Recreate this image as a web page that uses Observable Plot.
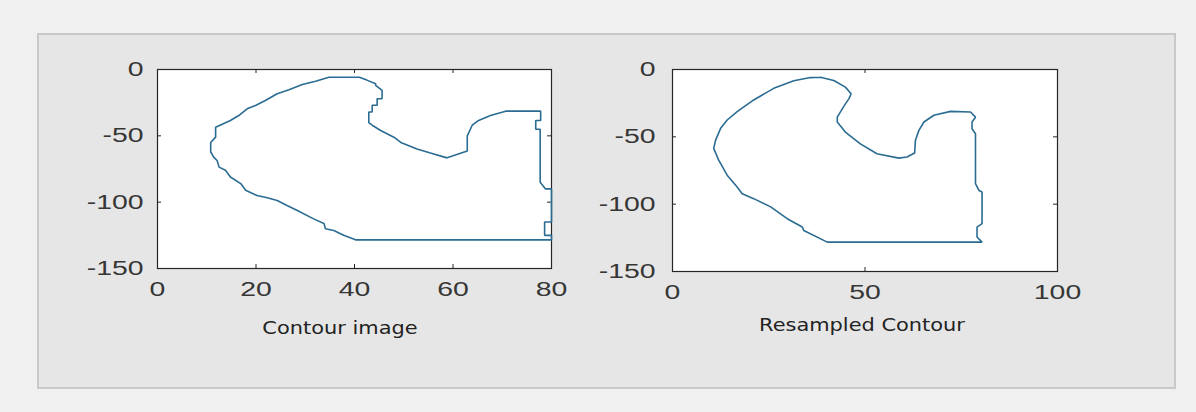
<!DOCTYPE html>
<html><head><meta charset="utf-8">
<script src="https://cdn.jsdelivr.net/npm/d3@7"></script>
<script src="https://cdn.jsdelivr.net/npm/@observablehq/plot@0.6"></script>
<style>
html,body{margin:0;padding:0;background:#f0f0f0;}
#page{position:relative;width:1196px;height:412px;overflow:hidden;background:#f0f0f0;}
#panel{position:absolute;left:37px;top:33px;width:1139px;height:356px;box-sizing:border-box;background:#e6e6e6;border:2px solid #c9c9c9;}
.plotbox{position:absolute;}
.title{position:absolute;width:400px;text-align:center;font-family:"DejaVu Sans";font-size:17px;line-height:17px;color:#222;transform:scaleX(1.23);transform-origin:center;white-space:nowrap;}
</style></head><body>
<div id="page">
<div id="panel"></div>
<div id="left" class="plotbox" style="left:80px;top:49px"></div>
<div id="right" class="plotbox" style="left:595px;top:49px"></div>
<div class="title" id="t1" style="left:140px;top:320px"></div>
<div class="title" id="t2" style="left:662px;top:317px"></div>
</div>
<script>
// ---- data ----
const titles = ["Contour image", "Resampled Contour"];
const leftXTicks = [0, 20, 40, 60, 80];
const rightXTicks = [0, 50, 100];
const yTicks = [0, -50, -100, -150];

const contourImageX = [34.8,41,42.5,44.3,44.3,45.6,45.6,44.6,44.6,43.6,43.6,42.9,42.9,43.6,45.3,48,49.4,52.7,55.4,58.8,62.9,62.9,63.9,65.2,67.6,70.7,77.8,77.8,76.8,76.8,77.7,77.7,78.8,80,80,78.6,78.6,80,80,40.2,37.8,35.8,34.1,33.8,31.7,28.4,26.3,24.3,22.3,20.2,17.9,16.9,14.8,13.8,12.5,12.1,11.4,10.8,10.8,11.8,11.8,14.8,16.5,18.2,19.9,21.9,24.3,26.7,29.4,32.1,34.8];
const contourImageY = [-5.8,-5.8,-8,-10.8,-12,-15.8,-22,-22,-27,-27,-32,-32,-40,-42,-46,-51,-55,-60,-63,-66.6,-61.5,-50,-42,-38.4,-34.7,-31.4,-31.4,-38.4,-38.4,-45,-45,-85,-90,-90,-115,-115,-125,-125,-128.4,-128.4,-125,-121.3,-120,-116,-112.6,-106.3,-102.5,-98.7,-96.7,-95,-91,-86,-81,-76,-73.6,-68.6,-66,-62,-55,-51,-43.5,-38.4,-34.7,-29.6,-27.1,-23.4,-18.3,-15.3,-11.3,-8.8,-5.8];

const resampledX = [38.4,41.9,44.9,46.4,45.8,44.9,44.1,42.8,42.8,44.9,48.8,53.1,58.8,60.9,62.9,63.1,64,65.3,67.9,72.2,77.4,78.7,77.8,77.8,78.7,78.7,79.6,80.4,80.4,79.1,79.1,80.4,40.2,34.1,33.7,29.8,25.5,21.1,18.1,16.8,14.2,12,10.7,11.2,12.5,14.2,16.8,21.1,26.3,31.5,35.8,38.4];
const resampledY = [-5.7,-8.2,-13.1,-18,-21.8,-25.5,-29.2,-35.4,-39,-46.5,-55.2,-62.6,-65.8,-65,-62,-52.6,-45.2,-39,-34,-31.1,-31.6,-35.4,-39,-44,-47.7,-84.8,-89.8,-91,-114.5,-117,-124.4,-128.2,-128.2,-119.5,-117,-110.8,-102,-95.9,-92.2,-87.2,-78.5,-67.3,-58.6,-52.4,-43.7,-37.5,-31.3,-22.6,-14,-8.3,-6,-5.7];

// ---- drawing ----
const lineColor = "#2b6c92";
const axisColor = "#262626";

function stretch(svg, s) {
  svg.querySelectorAll('g[aria-label$="tick label"] text').forEach(t => {
    const tr = t.getAttribute("transform") || "";
    let tx = 0, ty = 0;
    const m = tr.match(/translate\(\s*([-\d.e]+)[ ,]+([-\d.e]+)\s*\)/);
    if (m) { tx = +m[1]; ty = +m[2]; }
    const ax = tx + (parseFloat(t.getAttribute("x")) || 0);
    const ay = ty + (parseFloat(t.getAttribute("y")) || 0);
    t.setAttribute("transform", `translate(${ax},${ay}) scale(${s},1) translate(${-ax},${-ay}) ${tr}`);
  });
}

function panel({xs, ys, xDomain, xTicks, plotW, plotH, padY}) {
  const data = xs.map((x, i) => ({x, y: ys[i]}));
  const mL = 77, mT = 20, mR = 25, mB = 36, tk = 4;
  const svg = Plot.plot({
    width: mL + plotW + mR, height: mT + plotH + mB,
    marginLeft: mL, marginTop: mT, marginRight: mR, marginBottom: mB,
    style: {background: "transparent", overflow: "visible", fontFamily: "'Liberation Sans', Arial, sans-serif", fontSize: "20px", color: "#363636"},
    x: {domain: xDomain, label: null},
    y: {domain: [-150, 0], label: null},
    marks: [
      Plot.frame({fill: "white", stroke: null}),
      Plot.tickX(xTicks, {x: d => d, insetTop: plotH - tk, stroke: axisColor}),
      Plot.tickX(xTicks, {x: d => d, insetBottom: plotH - tk, stroke: axisColor}),
      Plot.tickY(yTicks, {y: d => d, insetLeft: plotW - tk, stroke: axisColor}),
      Plot.tickY(yTicks, {y: d => d, insetRight: plotW - tk, stroke: axisColor}),
      Plot.frame({stroke: axisColor, strokeWidth: 1.2}),
      Plot.line(data, {x: "x", y: "y", stroke: lineColor, strokeWidth: 1.6, strokeLinejoin: "miter", clip: false}),
      Plot.axisX({ticks: xTicks, tickSize: 0, tickPadding: 13, tickFormat: d => String(d), label: null}),
      Plot.axisY({ticks: yTicks, tickSize: 0, tickPadding: padY, tickFormat: d => String(d), label: null})
    ]
  });
  stretch(svg, 1.42);
  return svg;
}

document.getElementById("left").append(panel({
  xs: contourImageX, ys: contourImageY, xDomain: [0, 80], xTicks: leftXTicks,
  plotW: 394, plotH: 199, padY: 14
}));
document.getElementById("right").append(panel({
  xs: resampledX, ys: resampledY, xDomain: [0, 100], xTicks: rightXTicks,
  plotW: 385, plotH: 202, padY: 17
}));
document.getElementById("t1").textContent = titles[0];
document.getElementById("t2").textContent = titles[1];
</script>
</body></html>
